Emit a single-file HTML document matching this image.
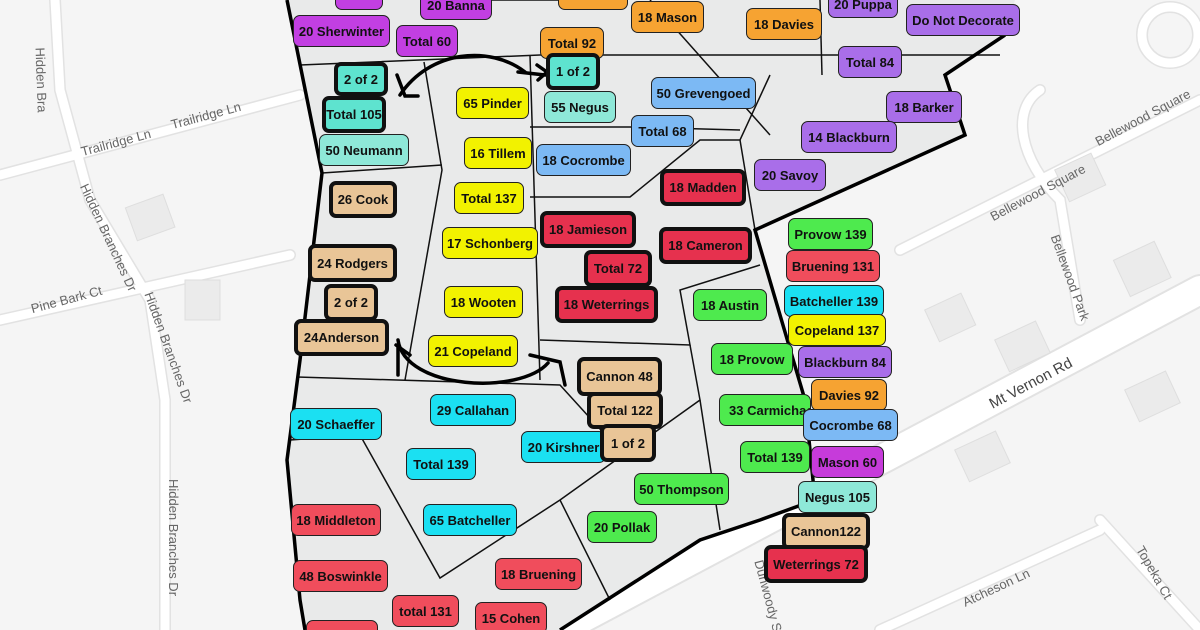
<!DOCTYPE html>
<html><head><meta charset="utf-8"><style>
html,body{margin:0;width:1200px;height:630px;overflow:hidden}
body{background:#f5f5f5;position:relative;font-family:"Liberation Sans",sans-serif}
svg{position:absolute;left:0;top:0}
.l{position:absolute;box-sizing:border-box;border:1.5px solid #222;border-radius:7px;font-weight:bold;font-size:13px;color:#111;display:flex;align-items:center;justify-content:center;white-space:nowrap;overflow:hidden}
.t{border-width:4px;border-color:#111}
.P{background:#c23fe2}.V{background:#a96ee9}.O{background:#f6a332}.TE{background:#5ee3cf}.LT{background:#8ee8d8}
.Y{background:#f2f200}.B{background:#7cb9f4}.R{background:#e6314e}.LR{background:#f04d5c}.TA{background:#e9c597}
.G{background:#4eea4e}.C{background:#1be0f2}.M{background:#c63bda}
.rd{position:absolute;color:#666;font-size:13px;white-space:nowrap}
</style></head><body>
<svg width="1200" height="630">
<g stroke="#e2e2e2" stroke-width="12" fill="none" stroke-linecap="round">
<path d="M55,0 L60,90 L90,200 L150,300 L165,400 L165,630"/>
<path d="M0,175 L300,95"/>
<path d="M0,320 L290,255"/>
<path d="M560,630 L1200,290" stroke-width="32"/>
<path d="M900,250 L1200,100"/>
<path d="M1040,90 C1010,110 1020,160 1060,200 L1080,320"/>
<path d="M1100,520 L1200,630"/>
<path d="M880,630 L1100,530"/>
<circle cx="1170" cy="35" r="28"/>
</g>
<g stroke="#fff" stroke-width="9" fill="none" stroke-linecap="round">
<path d="M55,0 L60,90 L90,200 L150,300 L165,400 L165,630"/>
<path d="M0,175 L300,95"/>
<path d="M0,320 L290,255"/>
<path d="M560,630 L1200,290" stroke-width="28"/>
<path d="M900,250 L1200,100"/>
<path d="M1040,90 C1010,110 1020,160 1060,200 L1080,320"/>
<path d="M1100,520 L1200,630"/>
<path d="M880,630 L1100,530"/>
<circle cx="1170" cy="35" r="28"/>
</g>
<g fill="#ebebeb" stroke="#dedede">
<rect x="130" y="200" width="40" height="35" transform="rotate(-20 150 217)"/>
<rect x="185" y="280" width="35" height="40"/>
<rect x="930" y="300" width="40" height="35" transform="rotate(-25 950 317)"/>
<rect x="1000" y="330" width="45" height="35" transform="rotate(-25 1020 347)"/>
<rect x="1120" y="250" width="45" height="40" transform="rotate(-25 1140 270)"/>
<rect x="1130" y="380" width="45" height="35" transform="rotate(-25 1150 397)"/>
<rect x="960" y="440" width="45" height="35" transform="rotate(-25 980 457)"/>
<rect x="1060" y="160" width="40" height="35" transform="rotate(-25 1080 177)"/>
</g>
<path d="M287,0 L322,173 L300,360 L287,460 L300,600 L305,630 L560,630 L700,540 L815,500 L812,470 L805,400 L755,230 L965,135 L945,75 L1005,35 L1015,0 Z" fill="#e9eaea" stroke="none"/>
<g stroke="#111" stroke-width="1.5" fill="none">
<path d="M300,65 L540,55 L740,55 L1000,55"/>
<path d="M650,0 L770,135"/>
<path d="M820,0 L822,75"/>
<path d="M424,62 L442,170 L405,380"/>
<path d="M322,173 L442,165"/>
<path d="M530,55 L540,380"/>
<path d="M530,127 L630,127 L740,130"/>
<path d="M530,197 L630,197 L700,140 L740,140 L770,75"/>
<path d="M740,140 L755,230"/>
<path d="M540,340 L690,345 L680,290 L760,265"/>
<path d="M690,345 L700,400 L560,500 L440,578 L360,435 L290,440"/>
<path d="M297,377 L560,385 L610,440"/>
<path d="M560,500 L610,600"/>
<path d="M700,400 L720,530"/>
<path d="M615,0 L490,0"/>
</g>
<path d="M287,0 L322,173 L300,360 L287,460 L300,600 L305,630 M560,630 L700,540 L760,520 L815,500 M815,500 L805,400 L755,230 L965,135 L945,75 L1005,35" stroke="#000" stroke-width="3.5" fill="none"/>
<g stroke="#000" stroke-width="3.5" fill="none" stroke-linecap="round">
<path d="M525,72 C490,45 430,50 400,95"/>
<path d="M397,75 L405,96 L418,96"/>
<path d="M518,72 L545,75 M537,65 L547,72 L538,80"/>
<path d="M398,340 C405,390 520,395 548,363"/>
<path d="M398,345 L398,375 M396,345 L410,355"/>
<path d="M530,355 L560,362 L565,385"/>
</g>
</svg>
<div class="rd" style="left:80px;top:135px;transform:rotate(-15deg)">Trailridge Ln</div>
<div class="rd" style="left:170px;top:108px;transform:rotate(-15deg)">Trailridge Ln</div>
<div class="rd" style="left:30px;top:292px;transform:rotate(-15deg)">Pine Bark Ct</div>
<div class="rd" style="left:40px;top:40px;transform:rotate(88deg);transform-origin:left">Hidden Bra</div>
<div class="rd" style="left:50px;top:230px;transform:rotate(65deg);transform-origin:center">Hidden Branches Dr</div>
<div class="rd" style="left:110px;top:340px;transform:rotate(70deg)">Hidden Branches Dr</div>
<div class="rd" style="left:115px;top:530px;transform:rotate(90deg)">Hidden Branches Dr</div>
<div class="rd" style="left:985px;top:375px;font-size:15px;color:#444;transform:rotate(-28deg)">Mt Vernon Rd</div>
<div class="rd" style="left:985px;top:185px;transform:rotate(-28deg)">Bellewood Square</div>
<div class="rd" style="left:1090px;top:110px;transform:rotate(-28deg)">Bellewood Square</div>
<div class="rd" style="left:1025px;top:270px;transform:rotate(70deg)">Bellewood Park</div>
<div class="rd" style="left:960px;top:580px;transform:rotate(-25deg)">Atcheson Ln</div>
<div class="rd" style="left:1125px;top:565px;transform:rotate(60deg)">Topeka Ct</div>
<div class="rd" style="left:730px;top:590px;transform:rotate(75deg)">Dunwoody St</div>

<div class="l P" style="left:335px;top:-12px;width:48px;height:22px"></div>
<div class="l P" style="left:420px;top:-10px;width:72px;height:30px">20 Banna</div>
<div class="l P" style="left:293px;top:15px;width:97px;height:32px">20 Sherwinter</div>
<div class="l P" style="left:396px;top:25px;width:62px;height:32px">Total 60</div>
<div class="l O" style="left:558px;top:-12px;width:70px;height:22px"></div>
<div class="l O" style="left:631px;top:1px;width:73px;height:32px">18 Mason</div>
<div class="l O" style="left:746px;top:8px;width:76px;height:32px">18 Davies</div>
<div class="l V" style="left:828px;top:-10px;width:70px;height:28px">20 Puppa</div>
<div class="l V" style="left:906px;top:4px;width:114px;height:32px">Do Not Decorate</div>
<div class="l O" style="left:540px;top:27px;width:64px;height:32px">Total 92</div>
<div class="l TE t" style="left:546px;top:53px;width:54px;height:37px">1 of 2</div>
<div class="l TE t" style="left:334px;top:62px;width:54px;height:34px">2 of 2</div>
<div class="l TE t" style="left:322px;top:96px;width:64px;height:37px">Total 105</div>
<div class="l LT" style="left:319px;top:134px;width:90px;height:32px">50 Neumann</div>
<div class="l Y" style="left:456px;top:87px;width:73px;height:32px">65 Pinder</div>
<div class="l LT" style="left:544px;top:91px;width:72px;height:32px">55 Negus</div>
<div class="l B" style="left:651px;top:77px;width:105px;height:32px">50 Grevengoed</div>
<div class="l V" style="left:838px;top:46px;width:64px;height:32px">Total 84</div>
<div class="l V" style="left:886px;top:91px;width:76px;height:32px">18 Barker</div>
<div class="l V" style="left:801px;top:121px;width:96px;height:32px">14 Blackburn</div>
<div class="l B" style="left:631px;top:115px;width:63px;height:32px">Total 68</div>
<div class="l B" style="left:536px;top:144px;width:95px;height:32px">18 Cocrombe</div>
<div class="l Y" style="left:464px;top:137px;width:68px;height:32px">16 Tillem</div>
<div class="l V" style="left:754px;top:159px;width:72px;height:32px">20 Savoy</div>
<div class="l R t" style="left:660px;top:169px;width:86px;height:37px">18 Madden</div>
<div class="l TA t" style="left:329px;top:181px;width:68px;height:37px">26 Cook</div>
<div class="l Y" style="left:454px;top:182px;width:70px;height:32px">Total 137</div>
<div class="l R t" style="left:540px;top:211px;width:96px;height:37px">18 Jamieson</div>
<div class="l R t" style="left:659px;top:227px;width:93px;height:37px">18 Cameron</div>
<div class="l G" style="left:788px;top:218px;width:85px;height:32px">Provow 139</div>
<div class="l Y" style="left:442px;top:227px;width:96px;height:32px">17 Schonberg</div>
<div class="l TA t" style="left:308px;top:244px;width:89px;height:38px">24 Rodgers</div>
<div class="l LR" style="left:786px;top:250px;width:94px;height:32px">Bruening 131</div>
<div class="l R t" style="left:584px;top:250px;width:68px;height:37px">Total 72</div>
<div class="l TA t" style="left:324px;top:284px;width:54px;height:37px">2 of 2</div>
<div class="l Y" style="left:444px;top:286px;width:79px;height:32px">18 Wooten</div>
<div class="l R t" style="left:555px;top:286px;width:103px;height:37px">18 Weterrings</div>
<div class="l G" style="left:693px;top:289px;width:74px;height:32px">18 Austin</div>
<div class="l C" style="left:784px;top:285px;width:100px;height:32px">Batcheller 139</div>
<div class="l Y" style="left:788px;top:314px;width:98px;height:32px">Copeland 137</div>
<div class="l TA t" style="left:294px;top:319px;width:95px;height:37px">24Anderson</div>
<div class="l Y" style="left:428px;top:335px;width:90px;height:32px">21 Copeland</div>
<div class="l G" style="left:711px;top:343px;width:82px;height:32px">18 Provow</div>
<div class="l V" style="left:798px;top:346px;width:94px;height:32px">Blackburn 84</div>
<div class="l TA t" style="left:577px;top:357px;width:85px;height:39px">Cannon 48</div>
<div class="l O" style="left:811px;top:379px;width:76px;height:32px">Davies 92</div>
<div class="l G" style="left:719px;top:394px;width:92px;height:32px;justify-content:flex-start;padding-left:9px">33 Carmichael</div>
<div class="l B" style="left:803px;top:409px;width:95px;height:32px">Cocrombe 68</div>
<div class="l TA t" style="left:587px;top:392px;width:76px;height:37px">Total 122</div>
<div class="l C" style="left:290px;top:408px;width:92px;height:32px">20 Schaeffer</div>
<div class="l C" style="left:430px;top:394px;width:86px;height:32px">29 Callahan</div>
<div class="l C" style="left:521px;top:431px;width:85px;height:32px">20 Kirshner</div>
<div class="l TA t" style="left:600px;top:424px;width:56px;height:38px">1 of 2</div>
<div class="l C" style="left:406px;top:448px;width:70px;height:32px">Total 139</div>
<div class="l G" style="left:740px;top:441px;width:70px;height:32px">Total 139</div>
<div class="l M" style="left:811px;top:446px;width:73px;height:32px">Mason 60</div>
<div class="l G" style="left:634px;top:473px;width:95px;height:32px">50 Thompson</div>
<div class="l LT" style="left:798px;top:481px;width:79px;height:32px">Negus 105</div>
<div class="l C" style="left:423px;top:504px;width:94px;height:32px">65 Batcheller</div>
<div class="l LR" style="left:291px;top:504px;width:90px;height:32px">18 Middleton</div>
<div class="l G" style="left:587px;top:511px;width:70px;height:32px">20 Pollak</div>
<div class="l TA t" style="left:782px;top:513px;width:88px;height:37px">Cannon122</div>
<div class="l R t" style="left:764px;top:545px;width:104px;height:38px">Weterrings 72</div>
<div class="l LR" style="left:293px;top:560px;width:95px;height:32px">48 Boswinkle</div>
<div class="l LR" style="left:495px;top:558px;width:87px;height:32px">18 Bruening</div>
<div class="l LR" style="left:392px;top:595px;width:67px;height:32px">total 131</div>
<div class="l LR" style="left:475px;top:602px;width:72px;height:32px">15 Cohen</div>
<div class="l LR" style="left:306px;top:620px;width:72px;height:22px"></div>
</body></html>
